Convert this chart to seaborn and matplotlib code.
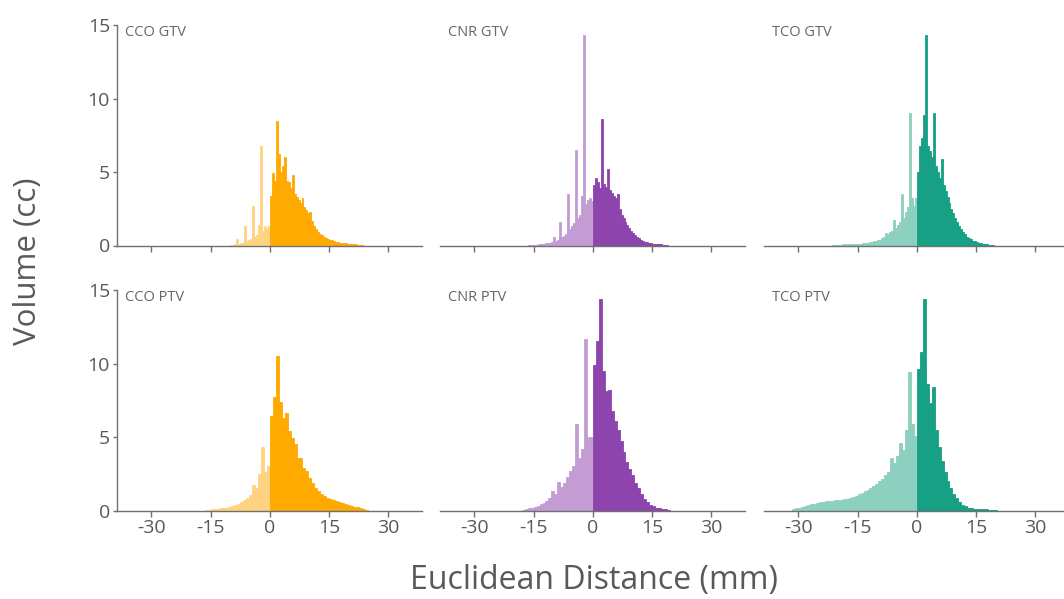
import numpy as np
import pandas as pd
import matplotlib
matplotlib.use("Agg")
import matplotlib.pyplot as plt
import seaborn as sns

# Volume (cc) per distance bin, split at 0 mm into the inner (negative) and outer (positive) side.
# GTV histograms use 0.5 mm bins, PTV histograms use 0.75 mm bins.
cco_gtv_neg = [0.03, 0.05, 0.08, 0.45, 0.12, 0.15, 0.2, 1.35, 0.3, 0.35, 0.45, 2.7, 0.6, 0.7,
               1.4, 6.8, 1.0, 1.35, 1.2, 1.3]
cco_gtv_pos = [3.4, 4.9, 4.4, 8.5, 6.2, 5.0, 5.4, 6.0, 4.4, 4.3, 3.9, 4.8, 3.5, 3.3, 3.1, 2.9,
               3.2, 2.6, 2.4, 2.2, 2.3, 1.7, 1.3, 1.1, 0.95, 0.8, 0.7, 0.6, 0.5, 0.45, 0.4,
               0.35, 0.3, 0.27, 0.24, 0.2, 0.18, 0.16, 0.14, 0.12, 0.1, 0.09, 0.08, 0.07,
               0.06, 0.05, 0.04]

cnr_gtv_neg = [0.03, 0.04, 0.05, 0.05, 0.06, 0.07, 0.08, 0.1, 0.12, 0.2, 0.15, 0.2, 0.25, 0.6,
               0.3, 0.38, 1.6, 0.55, 0.65, 0.8, 3.5, 1.1, 1.3, 1.5, 6.5, 1.9, 2.1, 3.4, 14.3,
               2.8, 3.1, 3.2, 3.0]
cnr_gtv_pos = [4.1, 4.6, 4.3, 3.9, 8.6, 4.2, 4.0, 5.2, 3.8, 3.6, 3.4, 3.2, 3.5, 2.5, 2.1, 1.9,
               1.6, 1.4, 1.2, 1.0, 0.85, 0.7, 0.58, 0.48, 0.4, 0.33, 0.27, 0.23, 0.19, 0.16,
               0.13, 0.11, 0.1, 0.08, 0.07, 0.05, 0.04, 0.03]

tco_gtv_neg = [0.05, 0.05, 0.05, 0.06, 0.06, 0.07, 0.07, 0.08, 0.08, 0.09, 0.1, 0.1, 0.11,
               0.12, 0.13, 0.14, 0.16, 0.18, 0.2, 0.22, 0.25, 0.28, 0.32, 0.36, 0.4, 0.5,
               0.55, 0.85, 0.75, 0.9, 1.0, 1.75, 1.2, 1.4, 1.6, 3.5, 1.9, 2.3, 2.6, 9.0, 3.2,
               2.7, 3.2]
tco_gtv_pos = [5.0, 6.8, 7.3, 8.9, 14.3, 6.8, 6.4, 6.0, 9.0, 5.4, 5.0, 4.6, 5.9, 4.1, 3.7, 3.3,
               2.9, 2.5, 2.2, 1.9, 1.6, 1.35, 1.1, 0.9, 0.75, 0.6, 0.5, 0.42, 0.34, 0.28,
               0.22, 0.18, 0.15, 0.12, 0.1, 0.08, 0.06, 0.05, 0.04]

cco_ptv_neg = [0.03, 0.06, 0.08, 0.1, 0.12, 0.14, 0.16, 0.2, 0.24, 0.3, 0.35, 0.45, 0.55, 0.7,
               0.85, 1.05, 1.75, 1.5, 2.5, 4.35, 2.6, 3.05]
cco_ptv_pos = [6.4, 7.7, 10.5, 7.4, 6.3, 6.6, 5.4, 4.9, 4.5, 3.6, 3.55, 2.9, 2.7, 2.2, 1.85,
               1.5, 1.3, 1.15, 1.0, 0.88, 0.8, 0.7, 0.63, 0.56, 0.5, 0.45, 0.4, 0.33, 0.27,
               0.22, 0.16, 0.1, 0.05]

cnr_ptv_neg = [0.05, 0.1, 0.15, 0.2, 0.26, 0.33, 0.42, 0.5, 0.65, 0.83, 1.3, 1.15, 1.96, 1.6,
               1.9, 2.3, 2.7, 3.0, 5.9, 3.6, 4.2, 11.7, 5.0, 5.0]
cnr_ptv_pos = [9.9, 11.5, 14.4, 9.5, 8.1, 8.2, 6.8, 6.1, 5.5, 4.7, 4.0, 3.3, 2.8, 2.4, 1.9, 1.5,
               1.1, 0.8, 0.55, 0.4, 0.28, 0.2, 0.14, 0.1, 0.07, 0.04]

tco_ptv_neg = [0.08, 0.15, 0.2, 0.25, 0.3, 0.36, 0.42, 0.47, 0.52, 0.56, 0.6, 0.63, 0.66, 0.68,
               0.7, 0.72, 0.74, 0.77, 0.8, 0.86, 0.93, 1.0, 1.1, 1.2, 1.3, 1.4, 1.52, 1.65,
               1.8, 1.98, 2.15, 2.4, 2.65, 3.55, 3.2, 3.7, 4.6, 4.1, 5.5, 9.45, 5.9, 5.1]
tco_ptv_pos = [9.6, 10.8, 14.4, 8.6, 7.3, 8.4, 5.5, 4.3, 3.4, 2.6, 2.0, 1.5, 1.1, 0.85, 0.6,
               0.4, 0.28, 0.2, 0.15, 0.12, 0.1, 0.09, 0.08, 0.07, 0.06, 0.05, 0.04]

panel_titles = [["CCO GTV", "CNR GTV", "TCO GTV"], ["CCO PTV", "CNR PTV", "TCO PTV"]]
x_ticks = [-30, -15, 0, 15, 30]
y_ticks = [0, 5, 10, 15]

panels = [
    [(cco_gtv_neg, cco_gtv_pos), (cnr_gtv_neg, cnr_gtv_pos), (tco_gtv_neg, tco_gtv_pos)],
    [(cco_ptv_neg, cco_ptv_pos), (cnr_ptv_neg, cnr_ptv_pos), (tco_ptv_neg, tco_ptv_pos)],
]
bin_width = [0.5, 0.75]

# (light, dark) colour per column
palette = [("#FFD381", "#FFAA00"), ("#C49CD4", "#8E44AD"), ("#8DD0C0", "#17A085")]

sns.set_theme(style="white")
plt.rcParams["font.family"] = ["Open Sans", "DejaVu Sans"]

text_grey = "#595959"
axis_grey = "#707070"

W, H = 1064, 599
fig = plt.figure(figsize=(W / 100, H / 100), dpi=100)

col_left = [117, 440, 764]
row_top = [25, 290]
ax_w, ax_h = 305, 220.5


def draw_side(ax, heights, start, width, color):
    heights = np.asarray(heights, dtype=float)
    edges = start + width * np.arange(len(heights) + 1)
    frame = pd.DataFrame({"distance": 0.5 * (edges[:-1] + edges[1:]), "volume": heights})
    # bars are outlined in their own colour so neighbouring bins merge without seams
    sns.histplot(data=frame, x="distance", weights="volume", bins=edges.tolist(),
                 element="bars", fill=True, color=color, alpha=1, linewidth=0.6,
                 edgecolor=color, ax=ax)


for r in range(2):
    w = bin_width[r]
    for c in range(3):
        left = col_left[c] / W
        bottom = 1 - (row_top[r] + ax_h) / H
        ax = fig.add_axes([left, bottom, ax_w / W, ax_h / H])
        neg, pos = panels[r][c]
        light, dark = palette[c]
        draw_side(ax, neg, -len(neg) * w, w, light)
        draw_side(ax, pos, 0.0, w, dark)

        ax.set_xlim(-38.7, 38.5)
        ax.set_ylim(0, 15)
        ax.set_xlabel("")
        ax.set_ylabel("")
        ax.set_xticks(x_ticks)
        ax.set_xticklabels([str(t) for t in x_ticks] if r == 1 else [])
        for s in ("top", "right"):
            ax.spines[s].set_visible(False)
        ax.spines["bottom"].set_color(axis_grey)
        ax.spines["bottom"].set_linewidth(1.0)
        ax.spines["bottom"].set_zorder(5)
        if c == 0:
            ax.spines["left"].set_color(axis_grey)
            ax.spines["left"].set_linewidth(1.0)
            ax.set_yticks(y_ticks)
            ax.set_yticklabels([str(t) for t in y_ticks])
        else:
            ax.spines["left"].set_visible(False)
            ax.set_yticks([])
        ax.tick_params(axis="both", direction="out", length=4, width=1.0, color=axis_grey,
                       labelcolor=text_grey, labelsize=14, pad=2)
        ax.tick_params(axis="x", bottom=True)
        ax.tick_params(axis="y", left=(c == 0), length=3)
        ax.text(0.027, 0.965, panel_titles[r][c], transform=ax.transAxes, ha="left",
                va="center", fontsize=10.5, color="#666666")

fig.text(28 / W, 1 - 261 / H, "Volume (cc)", rotation=90, ha="center", va="center",
         fontsize=22.5, color=text_grey)
fig.text(594 / W, 1 - 581 / H, "Euclidean Distance (mm)", ha="center", va="center",
         fontsize=23, color=text_grey)

fig.savefig("out.png", dpi=100)
